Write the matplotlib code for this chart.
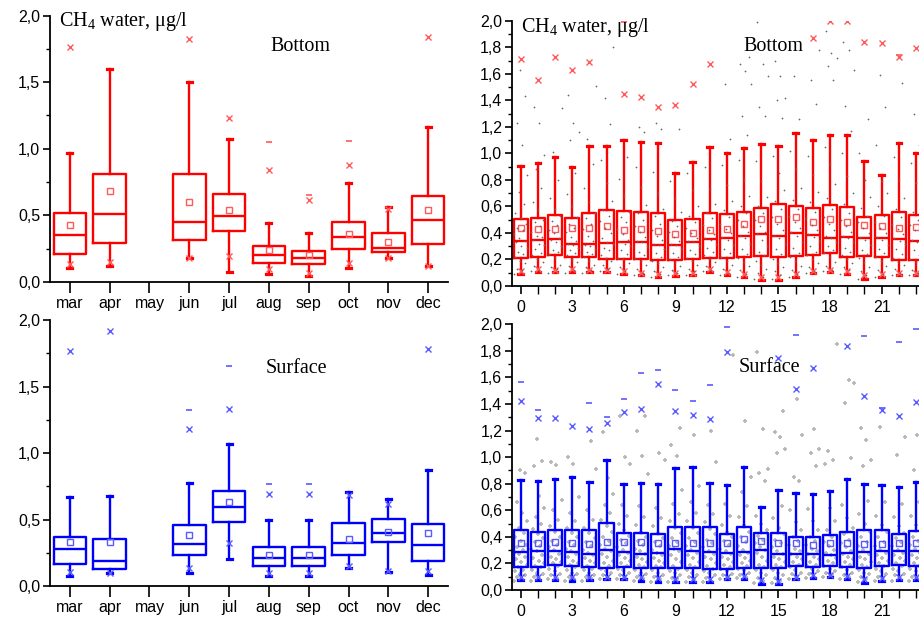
import numpy as np
import matplotlib
matplotlib.use("Agg")
import matplotlib.pyplot as plt
from matplotlib.ticker import MultipleLocator, FuncFormatter, FixedLocator

nan = np.nan

# ---------------- monthly data ----------------
months = ['mar', 'apr', 'may', 'jun', 'jul', 'aug', 'sep', 'oct', 'nov', 'dec']

bot_q1 = [0.21, 0.29, nan, 0.315, 0.385, 0.145, 0.133, 0.25, 0.223, 0.283]
bot_med = [0.355, 0.511, nan, 0.453, 0.493, 0.203, 0.178, 0.338, 0.253, 0.468]
bot_q3 = [0.518, 0.813, nan, 0.813, 0.661, 0.27, 0.23, 0.453, 0.365, 0.646]
bot_wlo = [0.108, 0.123, nan, 0.178, 0.075, 0.063, 0.045, 0.108, 0.183, 0.12]
bot_whi = [0.969, 1.602, nan, 1.502, 1.071, 0.446, 0.365, 0.743, 0.561, 1.166]
bot_mean = [0.43, 0.683, nan, 0.603, 0.538, 0.24, 0.2, 0.358, 0.303, 0.538]
bot_p1 = [0.133, 0.148, nan, 0.178, 0.198, 0.095, 0.07, 0.143, 0.178, 0.123]
bot_p99 = [1.762, nan, nan, 1.822, 1.232, 0.844, 0.613, 0.879, 0.546, 1.835]
bot_max = [nan, nan, nan, nan, nan, 1.054, 0.653, 1.059, nan, nan]

sur_q1 = [0.168, 0.13, nan, 0.236, 0.484, 0.148, 0.148, 0.236, 0.333, 0.19]
sur_med = [0.276, 0.19, nan, 0.316, 0.596, 0.213, 0.213, 0.326, 0.396, 0.308]
sur_q3 = [0.366, 0.356, nan, 0.456, 0.714, 0.291, 0.291, 0.471, 0.504, 0.464]
sur_wlo = [0.073, 0.1, nan, 0.095, 0.203, 0.075, 0.075, 0.138, 0.108, 0.085]
sur_whi = [0.672, 0.679, nan, 0.772, 1.068, 0.494, 0.494, 0.707, 0.657, 0.87]
sur_mean = [0.331, 0.328, nan, 0.383, 0.629, 0.231, 0.231, 0.351, 0.404, 0.396]
sur_p1 = [0.108, 0.1, nan, 0.133, 0.326, 0.095, 0.095, 0.153, 0.115, 0.115]
sur_p99 = [1.769, 1.917, nan, 1.18, 1.331, 0.692, 0.692, 0.684, 0.617, 1.784]
sur_max = [nan, nan, nan, 1.321, 1.654, 0.767, 0.767, nan, nan, nan]

# ---------------- hourly data ----------------
hours = list(range(24))
hour_ticks = [0, 3, 6, 9, 12, 15, 18, 21]

hb_q1 = [0.214, 0.216, 0.234, 0.216, 0.216, 0.206, 0.204, 0.206, 0.198, 0.193, 0.201, 0.214,
         0.209, 0.216, 0.229, 0.216, 0.224, 0.231, 0.246, 0.219, 0.226, 0.219, 0.196, 0.193]
hb_med = [0.337, 0.347, 0.352, 0.317, 0.314, 0.327, 0.329, 0.332, 0.312, 0.309, 0.329, 0.352,
          0.364, 0.379, 0.392, 0.379, 0.402, 0.384, 0.359, 0.367, 0.364, 0.362, 0.357, 0.342]
hb_q3 = [0.505, 0.51, 0.533, 0.51, 0.553, 0.573, 0.565, 0.558, 0.553, 0.497, 0.505, 0.553,
         0.54, 0.558, 0.585, 0.616, 0.603, 0.585, 0.611, 0.593, 0.523, 0.535, 0.555, 0.533]
hb_wlo = [0.09, 0.108, 0.103, 0.103, 0.103, 0.103, 0.09, 0.08, 0.065, 0.075, 0.083, 0.106,
          0.083, 0.065, 0.045, 0.045, 0.065, 0.095, 0.106, 0.09, 0.05, 0.07, 0.083, 0.083]
hb_whi = [0.907, 0.93, 0.975, 0.9, 1.055, 1.055, 1.1, 1.088, 1.075, 0.849, 0.935, 1.045,
          1.003, 1.043, 1.07, 1.058, 1.151, 1.1, 1.138, 1.138, 0.945, 0.837, 1.08, 1.0]
hb_mean = [0.435, 0.432, 0.432, 0.435, 0.437, 0.455, 0.425, 0.432, 0.417, 0.394, 0.402, 0.425,
           0.427, 0.467, 0.508, 0.508, 0.518, 0.485, 0.503, 0.485, 0.46, 0.452, 0.44, 0.442]
hb_p1 = [0.115, 0.125, 0.12, 0.125, 0.12, 0.12, 0.11, 0.1, 0.09, 0.095, 0.1, 0.125,
         0.105, 0.09, 0.07, 0.065, 0.09, 0.11, 0.12, 0.11, 0.08, 0.09, 0.1, 0.1]
hb_p99 = [1.711, 1.55, 1.724, 1.628, 1.688, nan, 1.447, 1.425, 1.347, 1.362, 1.523, 1.671,
          nan, nan, nan, nan, nan, 1.869, 2.0, 2.0, 1.837, 1.832, 1.729, 1.794]
hb_max = [nan, nan, nan, nan, nan, nan, 1.99, nan, nan, nan, nan, nan,
          nan, nan, nan, nan, nan, nan, nan, nan, nan, nan, 1.745, nan]

hs_q1 = [0.176, 0.176, 0.186, 0.183, 0.176, 0.168, 0.173, 0.168, 0.168, 0.163, 0.163, 0.161,
         0.161, 0.168, 0.168, 0.168, 0.181, 0.176, 0.183, 0.176, 0.168, 0.181, 0.188, 0.183]
hs_med = [0.286, 0.294, 0.294, 0.286, 0.269, 0.299, 0.284, 0.269, 0.281, 0.311, 0.294, 0.286,
          0.281, 0.284, 0.304, 0.269, 0.271, 0.269, 0.261, 0.276, 0.289, 0.294, 0.294, 0.294]
hs_q3 = [0.449, 0.439, 0.449, 0.454, 0.449, 0.502, 0.432, 0.432, 0.424, 0.477, 0.477, 0.477,
         0.419, 0.472, 0.427, 0.432, 0.401, 0.401, 0.412, 0.439, 0.452, 0.452, 0.424, 0.444]
hs_wlo = [0.073, 0.073, 0.073, 0.065, 0.073, 0.08, 0.08, 0.07, 0.063, 0.06, 0.06, 0.06,
          0.08, 0.085, 0.048, 0.048, 0.083, 0.09, 0.098, 0.085, 0.055, 0.07, 0.073, 0.073]
hs_whi = [0.826, 0.821, 0.838, 0.853, 0.816, 0.979, 0.798, 0.803, 0.8, 0.916, 0.928, 0.808,
          0.793, 0.928, 0.622, 0.753, 0.733, 0.725, 0.743, 0.833, 0.795, 0.793, 0.773, 0.816]
hs_mean = [0.356, 0.351, 0.361, 0.354, 0.346, 0.359, 0.361, 0.359, 0.351, 0.354, 0.351, 0.351,
           0.356, 0.386, 0.371, 0.351, 0.351, 0.339, 0.351, 0.351, 0.346, 0.346, 0.351, 0.351]
hs_p1 = [0.1, 0.1, 0.1, 0.095, 0.095, 0.1, 0.1, 0.095, 0.09, 0.085, 0.085, 0.085,
         0.1, 0.105, 0.075, 0.07, 0.1, 0.11, 0.115, 0.105, 0.08, 0.09, 0.095, 0.095]
hs_p99 = [1.423, 1.297, 1.292, 1.235, 1.215, 1.26, 1.34, 1.36, 1.551, 1.35, 1.32, 1.285,
          1.794, nan, nan, 1.749, 1.516, 1.674, nan, 1.837, 1.458, 1.355, 1.31, 1.415]
hs_max = [1.566, 1.353, nan, nan, 1.405, 1.3, 1.435, 1.631, 1.654, 1.506, 1.423, 1.541,
          1.977, nan, nan, nan, 1.92, nan, nan, nan, 1.915, 1.368, 1.864, 1.965]

# individual measurements (grey points) per hour, bottom water
hb_points = [
    [0.09, 0.12, 0.13, 0.17, 0.19, 0.22, 0.24, 0.26, 0.29, 0.3, 0.33, 0.34, 0.36, 0.39, 0.42, 0.44, 0.47, 0.51, 0.55, 0.62, 0.71, 0.84, 1.06, 1.23, 1.43, 1.63],
    [0.11, 0.12, 0.15, 0.18, 0.2, 0.23, 0.25, 0.28, 0.31, 0.32, 0.35, 0.37, 0.38, 0.41, 0.45, 0.48, 0.5, 0.57, 0.63, 0.74, 0.88, 0.99, 1.23, 1.35],
    [0.1, 0.13, 0.14, 0.16, 0.21, 0.24, 0.26, 0.27, 0.3, 0.33, 0.35, 0.36, 0.4, 0.42, 0.46, 0.49, 0.53, 0.58, 0.66, 0.8, 1.01, 1.34],
    [0.1, 0.12, 0.15, 0.18, 0.2, 0.23, 0.25, 0.27, 0.29, 0.31, 0.32, 0.34, 0.37, 0.41, 0.44, 0.47, 0.52, 0.6, 0.69, 0.85, 1.1, 1.16, 1.23, 1.44],
    [0.1, 0.12, 0.14, 0.16, 0.19, 0.22, 0.24, 0.26, 0.28, 0.3, 0.31, 0.34, 0.38, 0.43, 0.47, 0.51, 0.55, 0.63, 0.74, 0.92, 1.11, 1.51],
    [0.11, 0.13, 0.16, 0.19, 0.21, 0.23, 0.27, 0.29, 0.32, 0.33, 0.36, 0.4, 0.44, 0.49, 0.53, 0.57, 0.64, 0.78, 0.95, 1.22, 1.42, 1.8],
    [0.09, 0.11, 0.14, 0.17, 0.2, 0.21, 0.24, 0.27, 0.3, 0.32, 0.33, 0.35, 0.39, 0.43, 0.48, 0.52, 0.56, 0.68, 0.81, 0.97],
    [0.08, 0.1, 0.13, 0.16, 0.19, 0.21, 0.23, 0.26, 0.3, 0.33, 0.34, 0.37, 0.41, 0.45, 0.5, 0.55, 0.61, 0.75, 0.9, 1.16, 1.2],
    [0.07, 0.09, 0.11, 0.14, 0.17, 0.19, 0.22, 0.25, 0.28, 0.31, 0.32, 0.35, 0.38, 0.42, 0.47, 0.53, 0.58, 0.7, 0.86, 1.18, 1.23],
    [0.08, 0.1, 0.12, 0.15, 0.18, 0.2, 0.22, 0.25, 0.28, 0.31, 0.32, 0.34, 0.37, 0.41, 0.45, 0.49, 0.56, 0.66, 0.79, 1.18],
    [0.08, 0.11, 0.13, 0.16, 0.19, 0.21, 0.24, 0.27, 0.3, 0.33, 0.34, 0.36, 0.4, 0.44, 0.48, 0.53, 0.6, 0.72, 0.85],
    [0.11, 0.12, 0.15, 0.18, 0.2, 0.23, 0.26, 0.29, 0.32, 0.35, 0.36, 0.39, 0.42, 0.46, 0.51, 0.55, 0.62, 0.73, 0.9],
    [0.08, 0.1, 0.13, 0.16, 0.19, 0.22, 0.25, 0.28, 0.31, 0.35, 0.37, 0.4, 0.43, 0.47, 0.52, 0.57, 0.64, 0.76, 0.91, 1.11, 1.52],
    [0.07, 0.09, 0.12, 0.15, 0.18, 0.21, 0.24, 0.28, 0.32, 0.36, 0.38, 0.41, 0.45, 0.5, 0.55, 0.6, 0.68, 0.8, 0.95, 1.14, 1.28, 1.52, 1.62, 1.67, 1.73],
    [0.05, 0.07, 0.1, 0.13, 0.16, 0.19, 0.23, 0.26, 0.3, 0.35, 0.39, 0.41, 0.45, 0.5, 0.55, 0.6, 0.67, 0.79, 0.94, 1.28, 1.35, 1.58, 1.67, 1.99],
    [0.05, 0.08, 0.11, 0.14, 0.17, 0.2, 0.24, 0.28, 0.32, 0.36, 0.38, 0.42, 0.47, 0.52, 0.58, 0.64, 0.72, 0.85, 0.98, 1.27, 1.4, 1.42, 1.58, 1.7],
    [0.07, 0.09, 0.12, 0.15, 0.19, 0.22, 0.25, 0.29, 0.33, 0.38, 0.41, 0.44, 0.48, 0.53, 0.58, 0.65, 0.74, 0.88, 1.02, 1.26, 1.58],
    [0.1, 0.11, 0.14, 0.17, 0.2, 0.23, 0.26, 0.3, 0.34, 0.37, 0.39, 0.42, 0.46, 0.51, 0.56, 0.63, 0.71, 0.84, 0.98, 1.37, 1.55, 1.78],
    [0.11, 0.12, 0.15, 0.18, 0.22, 0.25, 0.27, 0.3, 0.33, 0.36, 0.38, 0.42, 0.47, 0.52, 0.58, 0.66, 0.77, 0.92, 1.05, 1.55, 1.66, 1.72, 1.76, 1.92],
    [0.09, 0.12, 0.14, 0.17, 0.2, 0.23, 0.26, 0.29, 0.33, 0.36, 0.38, 0.41, 0.45, 0.5, 0.55, 0.62, 0.7, 0.83, 1.0, 1.17, 1.36, 1.63, 1.78, 1.84],
    [0.05, 0.08, 0.11, 0.14, 0.18, 0.21, 0.24, 0.27, 0.31, 0.35, 0.37, 0.4, 0.44, 0.48, 0.53, 0.59, 0.67, 0.8, 1.0, 1.26],
    [0.07, 0.09, 0.12, 0.15, 0.19, 0.22, 0.25, 0.28, 0.31, 0.35, 0.37, 0.4, 0.44, 0.48, 0.53, 0.6, 0.7, 0.79, 1.06, 1.35, 1.59],
    [0.08, 0.1, 0.13, 0.16, 0.18, 0.21, 0.24, 0.28, 0.32, 0.34, 0.36, 0.39, 0.43, 0.47, 0.52, 0.58, 0.66, 0.8, 0.97, 1.53],
    [0.08, 0.1, 0.12, 0.15, 0.18, 0.2, 0.23, 0.27, 0.31, 0.33, 0.35, 0.38, 0.42, 0.46, 0.5, 0.56, 0.64, 0.78, 0.93, 1.06, 1.3, 1.48],
]

# individual measurements (grey points) per hour, surface water
hs_points = [
    [0.07, 0.08, 0.1, 0.11, 0.12, 0.14, 0.15, 0.17, 0.19, 0.21, 0.23, 0.25, 0.27, 0.28, 0.3, 0.32, 0.34, 0.37, 0.4, 0.43, 0.47, 0.52, 0.58, 0.66, 0.88, 0.9],
    [0.07, 0.09, 0.1, 0.12, 0.13, 0.15, 0.17, 0.18, 0.2, 0.22, 0.24, 0.26, 0.29, 0.31, 0.33, 0.36, 0.39, 0.42, 0.46, 0.5, 0.55, 0.62, 0.71, 0.93, 0.97, 1.14],
    [0.08, 0.09, 0.11, 0.12, 0.14, 0.16, 0.18, 0.2, 0.21, 0.23, 0.25, 0.27, 0.3, 0.32, 0.34, 0.37, 0.4, 0.44, 0.48, 0.53, 0.6, 0.68, 0.94, 0.96],
    [0.07, 0.08, 0.1, 0.12, 0.13, 0.15, 0.17, 0.19, 0.2, 0.22, 0.25, 0.27, 0.29, 0.31, 0.34, 0.36, 0.4, 0.43, 0.47, 0.52, 0.58, 0.7, 0.95, 1.0],
    [0.07, 0.09, 0.1, 0.11, 0.13, 0.15, 0.16, 0.18, 0.2, 0.22, 0.24, 0.26, 0.28, 0.3, 0.33, 0.36, 0.39, 0.43, 0.47, 0.53, 0.6, 0.91, 1.12],
    [0.08, 0.09, 0.11, 0.13, 0.14, 0.16, 0.18, 0.2, 0.22, 0.25, 0.27, 0.29, 0.31, 0.34, 0.37, 0.4, 0.44, 0.48, 0.53, 0.58, 0.64, 0.72, 0.84, 1.19],
    [0.08, 0.1, 0.11, 0.13, 0.15, 0.16, 0.18, 0.2, 0.22, 0.24, 0.26, 0.28, 0.3, 0.32, 0.35, 0.38, 0.41, 0.45, 0.5, 0.56, 0.64, 0.95, 1.0, 1.31],
    [0.07, 0.09, 0.1, 0.12, 0.13, 0.15, 0.17, 0.19, 0.21, 0.23, 0.25, 0.27, 0.29, 0.31, 0.34, 0.37, 0.4, 0.44, 0.49, 0.55, 0.63, 0.87, 1.01, 1.2, 1.31],
    [0.06, 0.08, 0.1, 0.11, 0.13, 0.15, 0.17, 0.18, 0.2, 0.22, 0.24, 0.26, 0.28, 0.3, 0.33, 0.36, 0.39, 0.43, 0.48, 0.54, 0.62, 0.98, 1.03],
    [0.06, 0.08, 0.09, 0.11, 0.13, 0.14, 0.16, 0.18, 0.21, 0.23, 0.26, 0.29, 0.31, 0.33, 0.36, 0.39, 0.43, 0.47, 0.52, 0.57, 0.65, 0.75, 1.01, 1.09, 1.22],
    [0.06, 0.08, 0.1, 0.11, 0.13, 0.15, 0.17, 0.19, 0.21, 0.24, 0.26, 0.28, 0.3, 0.33, 0.36, 0.39, 0.43, 0.47, 0.52, 0.58, 0.66, 0.78, 1.17],
    [0.06, 0.07, 0.09, 0.11, 0.13, 0.14, 0.16, 0.18, 0.2, 0.23, 0.25, 0.27, 0.29, 0.32, 0.35, 0.38, 0.42, 0.46, 0.51, 0.57, 0.64, 0.96, 1.2],
    [0.08, 0.09, 0.11, 0.12, 0.14, 0.16, 0.17, 0.19, 0.21, 0.23, 0.25, 0.27, 0.29, 0.31, 0.34, 0.37, 0.4, 0.44, 0.49, 0.56, 0.65, 1.77],
    [0.09, 0.1, 0.11, 0.13, 0.15, 0.16, 0.18, 0.2, 0.22, 0.24, 0.26, 0.28, 0.3, 0.33, 0.36, 0.4, 0.44, 0.49, 0.55, 0.63, 0.74, 0.85, 1.275],
    [0.05, 0.07, 0.09, 0.11, 0.13, 0.15, 0.17, 0.19, 0.22, 0.25, 0.28, 0.3, 0.32, 0.35, 0.38, 0.41, 0.45, 0.5, 0.56, 0.82, 0.88, 0.91, 1.21, 1.79],
    [0.05, 0.07, 0.09, 0.11, 0.13, 0.15, 0.17, 0.19, 0.21, 0.23, 0.25, 0.27, 0.29, 0.32, 0.35, 0.38, 0.42, 0.47, 0.54, 0.63, 1.03, 1.06, 1.15, 1.19, 1.35],
    [0.08, 0.1, 0.12, 0.13, 0.15, 0.17, 0.19, 0.21, 0.23, 0.25, 0.27, 0.29, 0.31, 0.34, 0.37, 0.4, 0.45, 0.51, 0.6, 0.82, 0.85, 1.17, 1.435],
    [0.09, 0.1, 0.12, 0.14, 0.16, 0.18, 0.19, 0.21, 0.23, 0.25, 0.27, 0.29, 0.31, 0.34, 0.37, 0.4, 0.45, 0.52, 0.61, 0.93, 1.03, 1.06, 1.21],
    [0.1, 0.11, 0.13, 0.14, 0.16, 0.18, 0.2, 0.22, 0.24, 0.26, 0.28, 0.3, 0.33, 0.36, 0.4, 0.45, 0.52, 0.62, 0.95, 0.98, 1.05, 1.85],
    [0.08, 0.1, 0.11, 0.13, 0.15, 0.17, 0.19, 0.21, 0.23, 0.25, 0.27, 0.29, 0.32, 0.35, 0.38, 0.42, 0.47, 0.54, 0.64, 0.99, 1.405, 1.56, 1.58],
    [0.06, 0.08, 0.1, 0.12, 0.13, 0.15, 0.17, 0.19, 0.21, 0.23, 0.25, 0.27, 0.3, 0.33, 0.36, 0.4, 0.44, 0.5, 0.57, 0.67, 0.93, 0.98, 1.13, 1.22],
    [0.07, 0.09, 0.1, 0.12, 0.14, 0.16, 0.18, 0.2, 0.22, 0.24, 0.26, 0.28, 0.3, 0.33, 0.36, 0.4, 0.44, 0.49, 0.56, 0.66, 1.225],
    [0.07, 0.09, 0.11, 0.12, 0.14, 0.16, 0.18, 0.2, 0.22, 0.24, 0.26, 0.28, 0.3, 0.33, 0.36, 0.39, 0.43, 0.48, 0.55, 0.65, 1.02, 1.15],
    [0.07, 0.09, 0.1, 0.12, 0.14, 0.16, 0.18, 0.2, 0.22, 0.24, 0.26, 0.28, 0.31, 0.34, 0.37, 0.4, 0.44, 0.49, 0.56, 0.66, 0.9, 1.1, 1.17],
]

y_label = r"CH$_\mathrm{4}$ water, μg/l"

# ---------------- style ----------------
plt.rcParams['font.family'] = ['Liberation Sans', 'DejaVu Sans']
plt.rcParams['mathtext.fontset'] = 'custom'
plt.rcParams['mathtext.rm'] = 'Liberation Serif'
plt.rcParams['mathtext.it'] = 'Liberation Serif:italic'

RED = '#ff0000'
RED_L = '#ff5a5a'
BLUE = '#0000ff'
BLUE_L = '#5a5aff'

fig = plt.figure(figsize=(9.19, 6.20), dpi=100)
fig.patch.set_facecolor('white')

ax_tl = fig.add_axes([0.0544, 0.5452, 0.4331, 0.4298])
ax_tr = fig.add_axes([0.5571, 0.5387, 0.4490, 0.4279])
ax_bl = fig.add_axes([0.0544, 0.0548, 0.4331, 0.4290])
ax_br = fig.add_axes([0.5571, 0.0484, 0.4490, 0.4285])

comma_fmt = FuncFormatter(lambda v, p: f"{v:.1f}".replace('.', ','))


def style_axes(ax):
    for s in ('top', 'right'):
        ax.spines[s].set_visible(False)
    for s in ('left', 'bottom'):
        ax.spines[s].set_linewidth(1.3)
    ax.set_ylim(0, 2.0)
    ax.yaxis.set_major_formatter(comma_fmt)
    ax.tick_params(axis='both', which='major', direction='out', width=1.2,
                   labelsize=11.5, colors='black')
    ax.tick_params(axis='y', which='major', length=5, pad=2)
    ax.tick_params(axis='y', which='minor', direction='out', length=3, width=1.0)


def draw_boxes(ax, pos, q1, med, q3, wlo, whi, mean, width, capw, col, col_l, lw, msz):
    stats, ps = [], []
    for p, a, m, b, lo, hi, mn in zip(pos, q1, med, q3, wlo, whi, mean):
        if np.isnan(m):
            continue
        stats.append(dict(q1=a, med=m, q3=b, whislo=lo, whishi=hi, mean=mn, fliers=[]))
        ps.append(p)
    ax.bxp(stats, positions=ps, widths=width, capwidths=capw, showmeans=True,
           showfliers=False, manage_ticks=False,
           boxprops=dict(color=col, linewidth=lw),
           whiskerprops=dict(color=col, linewidth=lw),
           capprops=dict(color=col, linewidth=lw + 0.6),
           medianprops=dict(color=col, linewidth=lw),
           meanprops=dict(marker='s', markerfacecolor='none', markeredgecolor=col_l,
                          markersize=msz, markeredgewidth=1.0))


def draw_extremes(ax, pos, p1, p99, vmax, col_l, ms):
    ax.plot(pos, p1, linestyle='none', marker='x', color=col_l, markersize=ms,
            markeredgewidth=1.0, clip_on=True, zorder=4)
    ax.plot(pos, p99, linestyle='none', marker='x', color=col_l, markersize=ms,
            markeredgewidth=1.0, clip_on=True, zorder=4)
    ax.plot(pos, vmax, linestyle='none', marker='_', color=col_l, markersize=ms,
            markeredgewidth=1.2, clip_on=True, zorder=4)


def draw_points(ax, groups, color, ms, mew, z):
    for h, vals in zip(hours, groups):
        n = len(vals)
        offs = [(((i * 0.6180339) % 1.0) - 0.5) * 0.8 for i in range(n)]
        ax.plot([h + o for o in offs], vals, linestyle='none', marker='+', color=color,
                markersize=ms, markeredgewidth=mew, zorder=z)


serif = ['Liberation Serif', 'DejaVu Serif']

# ---------------- monthly panels ----------------
mpos = list(range(1, len(months) + 1))
for ax, data, col, col_l, tag, tx, ty in [
        (ax_tl, (bot_q1, bot_med, bot_q3, bot_wlo, bot_whi, bot_mean, bot_p1, bot_p99, bot_max),
         RED, RED_L, 'Bottom', 0.555, 0.868),
        (ax_bl, (sur_q1, sur_med, sur_q3, sur_wlo, sur_whi, sur_mean, sur_p1, sur_p99, sur_max),
         BLUE, BLUE_L, 'Surface', 0.543, 0.802)]:
    q1, med, q3, wlo, whi, mean, p1, p99, vmax = data
    style_axes(ax)
    ax.set_xlim(0.5, 10.5)
    draw_boxes(ax, mpos, q1, med, q3, wlo, whi, mean, 0.82, 0.13, col, col_l, 1.7, 4.5)
    draw_extremes(ax, mpos, p1, p99, vmax, col_l, 5)
    ax.set_xticks(mpos)
    ax.set_xticklabels(months)
    ax.tick_params(axis='x', which='major', length=8, pad=2)
    ax.yaxis.set_major_locator(MultipleLocator(0.5))
    ax.yaxis.set_minor_locator(MultipleLocator(0.25))
    ax.text(tx, ty, tag, transform=ax.transAxes, family=serif, fontsize=14.5,
            ha='left', va='baseline')

ax_tl.text(0.023, 0.962, y_label, transform=ax_tl.transAxes, family=serif,
           fontsize=14.5, ha='left', va='baseline')

# ---------------- hourly panels ----------------
for ax, data, pts, col, col_l, pcol, pms, pmew, pz, tag, tx, ty in [
        (ax_tr, (hb_q1, hb_med, hb_q3, hb_wlo, hb_whi, hb_mean, hb_p1, hb_p99, hb_max),
         hb_points, RED, RED_L, '#6a6a6a', 2.0, 0.5, 5, 'Bottom', 0.56, 0.887),
        (ax_br, (hs_q1, hs_med, hs_q3, hs_wlo, hs_whi, hs_mean, hs_p1, hs_p99, hs_max),
         hs_points, BLUE, BLUE_L, '#b8b8b8', 3.4, 1.3, 1, 'Surface', 0.549, 0.822)]:
    q1, med, q3, wlo, whi, mean, p1, p99, vmax = data
    style_axes(ax)
    ax.set_xlim(-0.5, 23.5)
    draw_points(ax, pts, pcol, pms, pmew, pz)
    draw_boxes(ax, hours, q1, med, q3, wlo, whi, mean, 0.82, 0.26, col, col_l, 1.7, 4.2)
    draw_extremes(ax, hours, p1, p99, vmax, col_l, 4.5)
    ax.xaxis.set_major_locator(FixedLocator(hour_ticks))
    ax.xaxis.set_minor_locator(FixedLocator(hours))
    ax.xaxis.set_major_formatter(FuncFormatter(lambda v, p: f"{int(round(v))}"))
    ax.tick_params(axis='x', which='major', length=6, pad=4)
    ax.tick_params(axis='x', which='minor', direction='out', length=6, width=1.0)
    ax.yaxis.set_major_locator(MultipleLocator(0.2))
    ax.yaxis.set_minor_locator(MultipleLocator(0.1))
    ax.text(tx, ty, tag, transform=ax.transAxes, family=serif, fontsize=14.5,
            ha='left', va='baseline', zorder=6)

ax_tr.text(0.022, 0.957, y_label, transform=ax_tr.transAxes, family=serif,
           fontsize=14.5, ha='left', va='baseline', zorder=6)

fig.savefig('out.png', dpi=100, facecolor='white')
